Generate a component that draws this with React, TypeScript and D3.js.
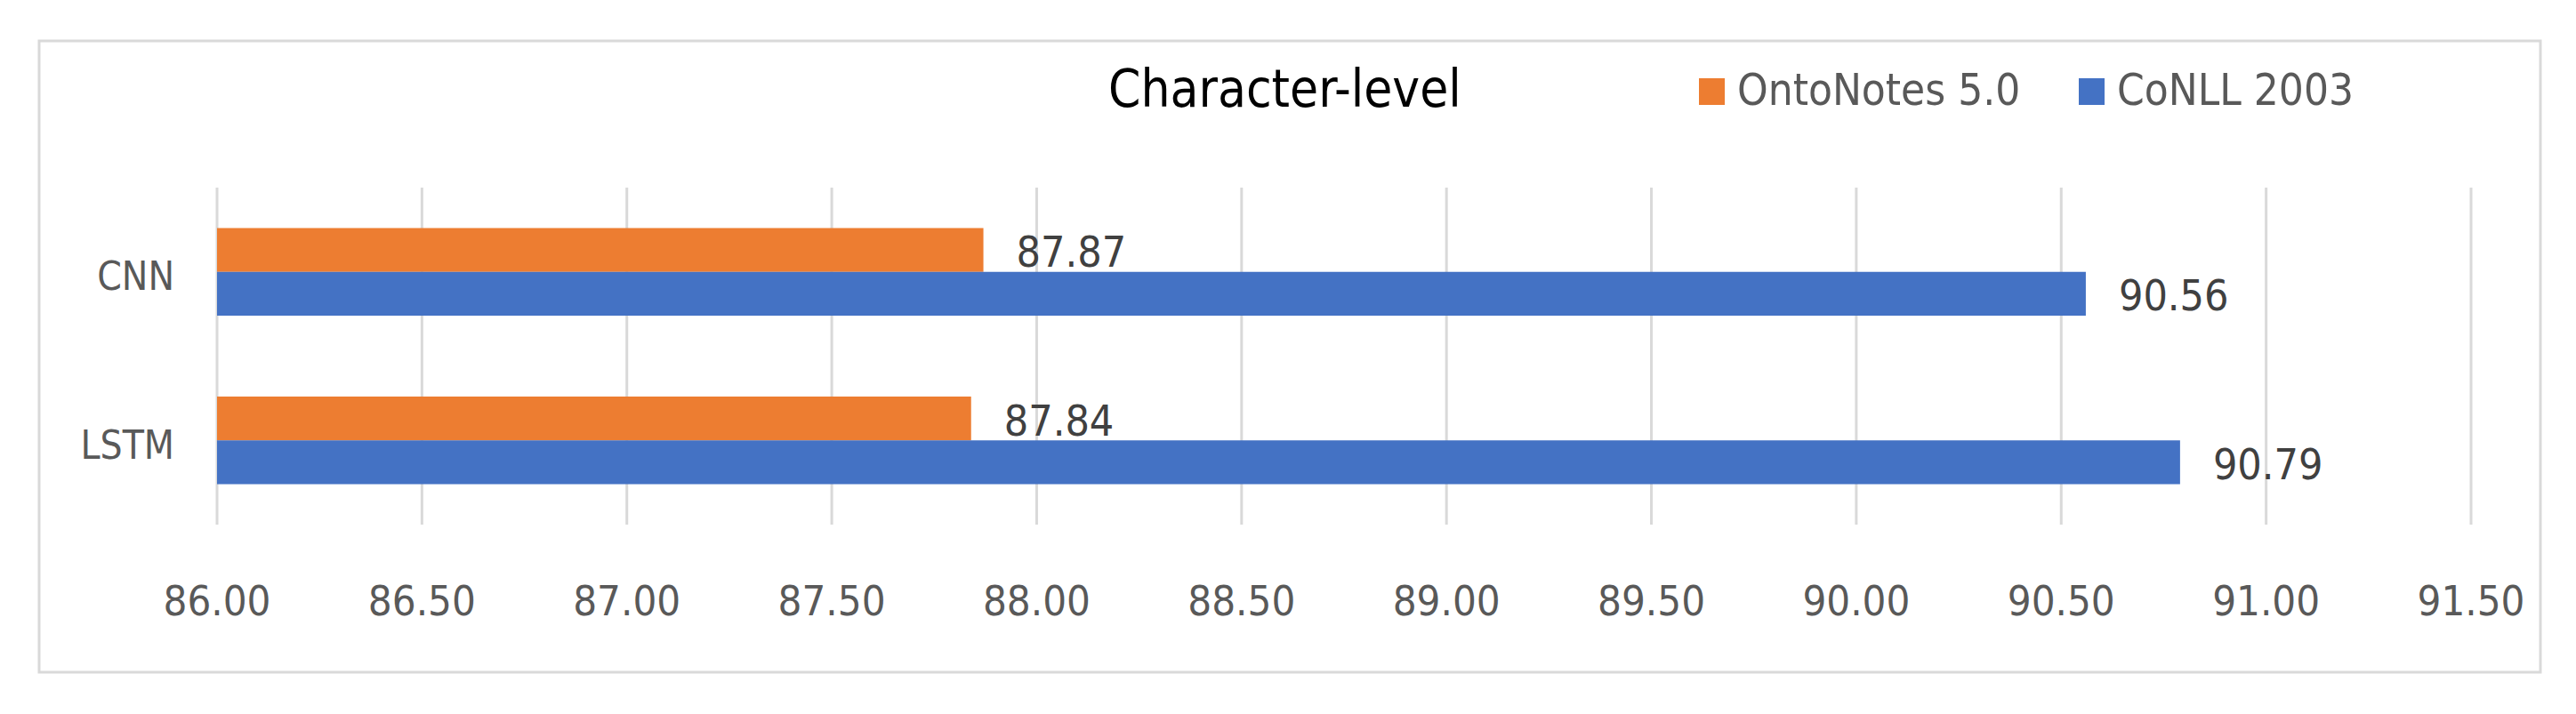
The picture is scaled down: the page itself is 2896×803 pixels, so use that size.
import React from "react";
import * as d3 from "d3";

const categories = ["CNN", "LSTM"];
const seriesNames = ["OntoNotes 5.0", "CoNLL 2003"];
const ontoNotes = [87.87, 87.84];
const conll = [90.56, 90.79];
const xTicks = [86, 86.5, 87, 87.5, 88, 88.5, 89, 89.5, 90, 90.5, 91, 91.5];
const title = "Character-level";

const colors = ["#ED7D31", "#4472C4"];
const FONT = "'Liberation Sans Narrow', 'Arial Narrow', 'DejaVu Sans Condensed', sans-serif";

export default function App() {
  const W = 2896, H = 803;
  const x = d3.scaleLinear().domain([86, 91.5]).range([244, 2778]);
  const y = d3.scaleBand<string>().domain(categories).range([211, 590]).paddingInner(0.48).paddingOuter(0.24);
  const ys = d3.scaleBand<string>().domain(seriesNames).range([0, y.bandwidth()]);
  const values = [ontoNotes, conll];
  const legendX = [1910, 2337];

  return (
    <svg width={W} height={H} style={{ position: "absolute", left: 0, top: 0, background: "#fff" }} fontFamily={FONT}>
      <rect x={0} y={0} width={W} height={H} fill="#fff" />
      <rect x={44} y={46} width={2812} height={710} fill="#fff" stroke="#d9d9d9" strokeWidth={3} />
      {xTicks.map((t) => (
        <line key={"g" + t} x1={x(t)} x2={x(t)} y1={211} y2={590} stroke="#d9d9d9" strokeWidth={3} />
      ))}
      {xTicks.map((t) => (
        <text key={"t" + t} x={x(t)} y={692} textAnchor="middle" fontSize={47} fill="#595959">
          {d3.format(".2f")(t)}
        </text>
      ))}
      {categories.map((c) => (
        <text key={"c" + c} x={196} y={(y(c) as number) + y.bandwidth() / 2 + 5} textAnchor="end" dominantBaseline="central" fontSize={44} fill="#595959">
          {c}
        </text>
      ))}
      {seriesNames.map((s, si) =>
        categories.map((c, ci) => {
          const v = values[si][ci];
          const by = (y(c) as number) + (ys(s) as number);
          return (
            <g key={s + c}>
              <rect x={x(86)} y={by} width={x(v) - x(86)} height={ys.bandwidth()} fill={colors[si]} />
              <text x={x(v) + 37} y={by + ys.bandwidth() / 2 + 2} dominantBaseline="central" fontSize={48} fill="#404040">
                {v.toFixed(2)}
              </text>
            </g>
          );
        })
      )}
      <text x={1246} y={120} fontSize={58} fill="#000">{title}</text>
      {seriesNames.map((s, i) => (
        <g key={"l" + s}>
          <rect x={legendX[i]} y={88} width={29} height={30} fill={colors[i]} />
          <text x={legendX[i] + 43} y={118} fontSize={49} fill="#595959">{s}</text>
        </g>
      ))}
    </svg>
  );
}
